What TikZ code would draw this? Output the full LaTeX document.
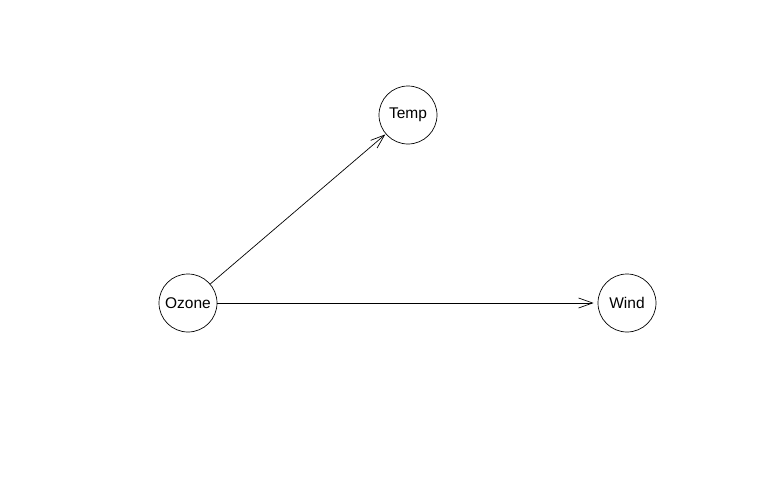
\documentclass[tikz,border=0pt]{standalone}
\usepackage{fontspec}
\setmainfont{Liberation Sans}
\usetikzlibrary{arrows.meta}
\begin{document}
\begin{tikzpicture}[x=1pt,y=-1pt,
  vnode/.style={draw,circle,minimum size=58pt,inner sep=0pt,line width=0.7pt,font=\fontsize{15.5}{18}\selectfont},
  edge/.style={line width=0.7pt,-{Straight Barb[length=14pt,width=10pt,line width=0.7pt]}}]
\useasboundingbox (0,0) rectangle (777,501);
\node[vnode] (temp) at (408,115) {Temp};
\node[vnode] (ozone) at (188,303) {Ozone};
\node[vnode] (wind) at (627,303) {Wind};
\draw[edge,shorten >=0.5pt] (ozone) -- (temp);
\draw[edge,shorten >=4pt] (ozone) -- (wind);
\end{tikzpicture}
\end{document}
